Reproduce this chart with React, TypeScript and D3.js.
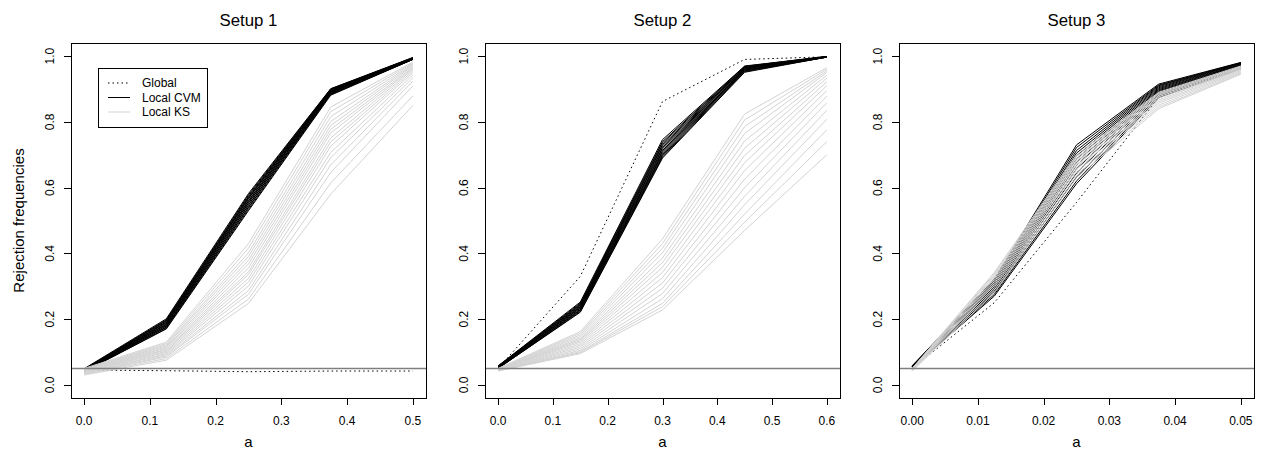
import React from 'react';
import * as d3 from 'd3';

// x grids of the three setups
const aSetup1 = [0, 0.125, 0.25, 0.375, 0.5];
const aSetup2 = [0, 0.15, 0.3, 0.45, 0.6];
const aSetup3 = [0, 0.0125, 0.025, 0.0375, 0.05];

const xTicks1 = [0, 0.1, 0.2, 0.3, 0.4, 0.5];
const xTicks2 = [0, 0.1, 0.2, 0.3, 0.4, 0.5, 0.6];
const xTicks3 = [0, 0.01, 0.02, 0.03, 0.04, 0.05];
const yTicks = [0, 0.2, 0.4, 0.6, 0.8, 1.0];

const titles = ['Setup 1', 'Setup 2', 'Setup 3'];
const legendLabels = ['Global', 'Local CVM', 'Local KS'];
const nominalLevel = 0.05;

// Setup 1
const global1 = [0.045, 0.043, 0.040, 0.042, 0.042];
const cvm1 = [
  [0.049, 0.201, 0.582, 0.901, 0.996],
  [0.048, 0.198, 0.578, 0.900, 0.995],
  [0.047, 0.196, 0.574, 0.899, 0.995],
  [0.046, 0.195, 0.571, 0.897, 0.994],
  [0.046, 0.192, 0.568, 0.896, 0.994],
  [0.045, 0.190, 0.566, 0.895, 0.993],
  [0.044, 0.189, 0.561, 0.894, 0.993],
  [0.044, 0.186, 0.559, 0.893, 0.993],
  [0.043, 0.184, 0.555, 0.892, 0.992],
  [0.043, 0.183, 0.553, 0.890, 0.992],
  [0.042, 0.180, 0.548, 0.889, 0.992],
  [0.042, 0.179, 0.546, 0.888, 0.991],
  [0.041, 0.176, 0.541, 0.886, 0.991],
  [0.041, 0.175, 0.539, 0.885, 0.990],
  [0.040, 0.172, 0.534, 0.883, 0.990],
  [0.040, 0.170, 0.530, 0.881, 0.990],
];
const ks1 = [
  [0.050, 0.130, 0.430, 0.845, 0.982],
  [0.048, 0.126, 0.416, 0.831, 0.979],
  [0.047, 0.122, 0.402, 0.816, 0.976],
  [0.046, 0.119, 0.391, 0.801, 0.973],
  [0.045, 0.115, 0.379, 0.789, 0.970],
  [0.044, 0.112, 0.368, 0.777, 0.966],
  [0.043, 0.108, 0.356, 0.766, 0.963],
  [0.042, 0.106, 0.344, 0.751, 0.960],
  [0.041, 0.102, 0.336, 0.739, 0.955],
  [0.040, 0.099, 0.324, 0.726, 0.950],
  [0.038, 0.095, 0.313, 0.707, 0.943],
  [0.037, 0.092, 0.301, 0.691, 0.934],
  [0.035, 0.088, 0.287, 0.669, 0.924],
  [0.034, 0.085, 0.276, 0.646, 0.909],
  [0.032, 0.080, 0.261, 0.614, 0.879],
  [0.030, 0.075, 0.248, 0.580, 0.850],
];

// Setup 2
const global2 = [0.050, 0.330, 0.862, 0.990, 0.998];
const cvm2 = [
  [0.058, 0.252, 0.746, 0.970, 0.999],
  [0.057, 0.249, 0.740, 0.969, 0.999],
  [0.057, 0.246, 0.736, 0.968, 0.999],
  [0.056, 0.244, 0.731, 0.966, 0.999],
  [0.055, 0.242, 0.727, 0.965, 0.998],
  [0.055, 0.239, 0.722, 0.964, 0.998],
  [0.054, 0.237, 0.718, 0.963, 0.998],
  [0.053, 0.235, 0.713, 0.961, 0.998],
  [0.053, 0.233, 0.709, 0.960, 0.998],
  [0.052, 0.230, 0.705, 0.958, 0.997],
  [0.051, 0.228, 0.701, 0.957, 0.997],
  [0.051, 0.226, 0.697, 0.955, 0.997],
  [0.050, 0.223, 0.693, 0.953, 0.997],
  [0.050, 0.221, 0.690, 0.951, 0.997],
];
const ks2 = [
  [0.050, 0.162, 0.444, 0.824, 0.965],
  [0.049, 0.157, 0.430, 0.806, 0.960],
  [0.049, 0.152, 0.416, 0.786, 0.955],
  [0.048, 0.147, 0.402, 0.765, 0.950],
  [0.048, 0.142, 0.386, 0.742, 0.942],
  [0.047, 0.138, 0.372, 0.720, 0.933],
  [0.047, 0.134, 0.358, 0.698, 0.922],
  [0.046, 0.130, 0.342, 0.676, 0.910],
  [0.046, 0.125, 0.326, 0.652, 0.895],
  [0.045, 0.120, 0.310, 0.626, 0.878],
  [0.045, 0.115, 0.294, 0.600, 0.858],
  [0.044, 0.110, 0.278, 0.574, 0.835],
  [0.044, 0.105, 0.262, 0.548, 0.808],
  [0.043, 0.101, 0.248, 0.520, 0.776],
  [0.043, 0.098, 0.238, 0.495, 0.740],
  [0.042, 0.095, 0.228, 0.470, 0.700],
];

// Setup 3
const global3 = [0.050, 0.250, 0.555, 0.875, 0.970];
const cvm3 = [
  [0.058, 0.322, 0.730, 0.915, 0.981],
  [0.057, 0.318, 0.722, 0.912, 0.980],
  [0.057, 0.314, 0.713, 0.910, 0.979],
  [0.056, 0.310, 0.705, 0.907, 0.978],
  [0.056, 0.306, 0.697, 0.904, 0.977],
  [0.055, 0.302, 0.688, 0.901, 0.975],
  [0.055, 0.298, 0.678, 0.898, 0.974],
  [0.054, 0.294, 0.668, 0.895, 0.972],
  [0.054, 0.290, 0.657, 0.892, 0.970],
  [0.053, 0.285, 0.645, 0.888, 0.968],
  [0.053, 0.280, 0.632, 0.884, 0.966],
  [0.052, 0.275, 0.620, 0.879, 0.963],
  [0.052, 0.270, 0.612, 0.874, 0.961],
];
const ks3 = [
  [0.050, 0.342, 0.700, 0.890, 0.970],
  [0.049, 0.338, 0.695, 0.887, 0.968],
  [0.049, 0.334, 0.690, 0.884, 0.967],
  [0.048, 0.330, 0.685, 0.880, 0.965],
  [0.047, 0.325, 0.680, 0.876, 0.963],
  [0.047, 0.320, 0.675, 0.872, 0.961],
  [0.046, 0.314, 0.669, 0.867, 0.959],
  [0.045, 0.308, 0.663, 0.862, 0.956],
  [0.045, 0.302, 0.656, 0.857, 0.953],
  [0.044, 0.296, 0.648, 0.851, 0.950],
  [0.043, 0.288, 0.640, 0.845, 0.947],
  [0.042, 0.280, 0.630, 0.840, 0.945],
];

const FONT = '"Liberation Sans", Arial, Helvetica, sans-serif';
const TOP = 43;
const SIZE = 355;
const GRAY_KS = '#d3d3d3';

type PanelProps = {
  left: number;
  title: string;
  xs: number[];
  xTicks: number[];
  fmt: (v: number) => string;
  global: number[];
  cvm: number[][];
  ks: number[][];
  yLabel?: boolean;
  legend?: boolean;
};

const Panel = ({ left, title, xs, xTicks, fmt, global, cvm, ks, yLabel, legend }: PanelProps) => {
  const [x0, x1] = d3.extent(xs) as [number, number];
  const pad = (x1 - x0) * 0.04;
  const x = d3.scaleLinear().domain([x0 - pad, x1 + pad]).range([left, left + SIZE]);
  const y = d3.scaleLinear().domain([-0.04, 1.04]).range([TOP + SIZE, TOP]);
  const line = d3.line<number>().x((d, i) => x(xs[i])).y(d => y(d));
  const bottom = TOP + SIZE;

  return (
    <g>
      <defs>
        <clipPath id={`clip-${left}`}>
          <rect x={left} y={TOP} width={SIZE} height={SIZE} />
        </clipPath>
      </defs>
      <text x={left + SIZE / 2} y={26} textAnchor="middle" fontSize={16.8}>{title}</text>
      <g clipPath={`url(#clip-${left})`}>
        <path d={line(global) || ''} fill="none" stroke="#000" strokeWidth={1} strokeDasharray="1.5,3" />
        {cvm.map((s, i) => (
          <path key={'c' + i} d={line(s) || ''} fill="none" stroke="#000" strokeWidth={1} />
        ))}
        {ks.map((s, i) => (
          <path key={'k' + i} d={line(s) || ''} fill="none" stroke={GRAY_KS} strokeWidth={1} />
        ))}
        <line x1={left} x2={left + SIZE} y1={y(nominalLevel)} y2={y(nominalLevel)} stroke="#7f7f7f" strokeWidth={1.5} />
      </g>
      <rect x={left + 0.5} y={TOP + 0.5} width={SIZE} height={SIZE} fill="none" stroke="#000" strokeWidth={1} />
      {/* x axis */}
      <line x1={x(xTicks[0])} x2={x(xTicks[xTicks.length - 1])} y1={bottom + 0.5} y2={bottom + 0.5} stroke="#000" />
      {xTicks.map(t => (
        <g key={'x' + t}>
          <line x1={Math.round(x(t)) + 0.5} x2={Math.round(x(t)) + 0.5} y1={bottom} y2={bottom + 7} stroke="#000" />
          <text x={x(t)} y={425} textAnchor="middle" fontSize={12}>{fmt(t)}</text>
        </g>
      ))}
      <text x={left + SIZE / 2} y={447} textAnchor="middle" fontSize={15}>a</text>
      {/* y axis */}
      {yTicks.map(t => (
        <g key={'y' + t}>
          <line x1={left - 7} x2={left} y1={Math.round(y(t)) + 0.5} y2={Math.round(y(t)) + 0.5} stroke="#000" />
          <text transform={`translate(${left - 17},${y(t)}) rotate(-90)`} textAnchor="middle" fontSize={12}>{t.toFixed(1)}</text>
        </g>
      ))}
      {yLabel && (
        <text transform={`translate(24,${TOP + SIZE / 2}) rotate(-90)`} textAnchor="middle" fontSize={15}>Rejection frequencies</text>
      )}
      {legend && (
        <g>
          <rect x={98.5} y={68.5} width={109} height={59} fill="#fff" stroke="#000" />
          {legendLabels.map((lab, i) => (
            <g key={lab}>
              <line x1={108} x2={130} y1={83 + i * 14.5} y2={83 + i * 14.5}
                stroke={i === 2 ? GRAY_KS : '#000'} strokeDasharray={i === 0 ? '1.5,3' : undefined} />
              <text x={142} y={83 + i * 14.5} dy="0.35em" fontSize={12}>{lab}</text>
            </g>
          ))}
        </g>
      )}
    </g>
  );
};

export default function App() {
  return (
    <svg width={1262} height={457} style={{ position: 'absolute', left: 0, top: 0, background: '#fff' }}
      fontFamily={FONT} fill="#000">
      <Panel left={71} title={titles[0]} xs={aSetup1} xTicks={xTicks1} fmt={d3.format('.1f')}
        global={global1} cvm={cvm1} ks={ks1} yLabel legend />
      <Panel left={485} title={titles[1]} xs={aSetup2} xTicks={xTicks2} fmt={d3.format('.1f')}
        global={global2} cvm={cvm2} ks={ks2} />
      <Panel left={899} title={titles[2]} xs={aSetup3} xTicks={xTicks3} fmt={d3.format('.2f')}
        global={global3} cvm={cvm3} ks={ks3} />
    </svg>
  );
}
